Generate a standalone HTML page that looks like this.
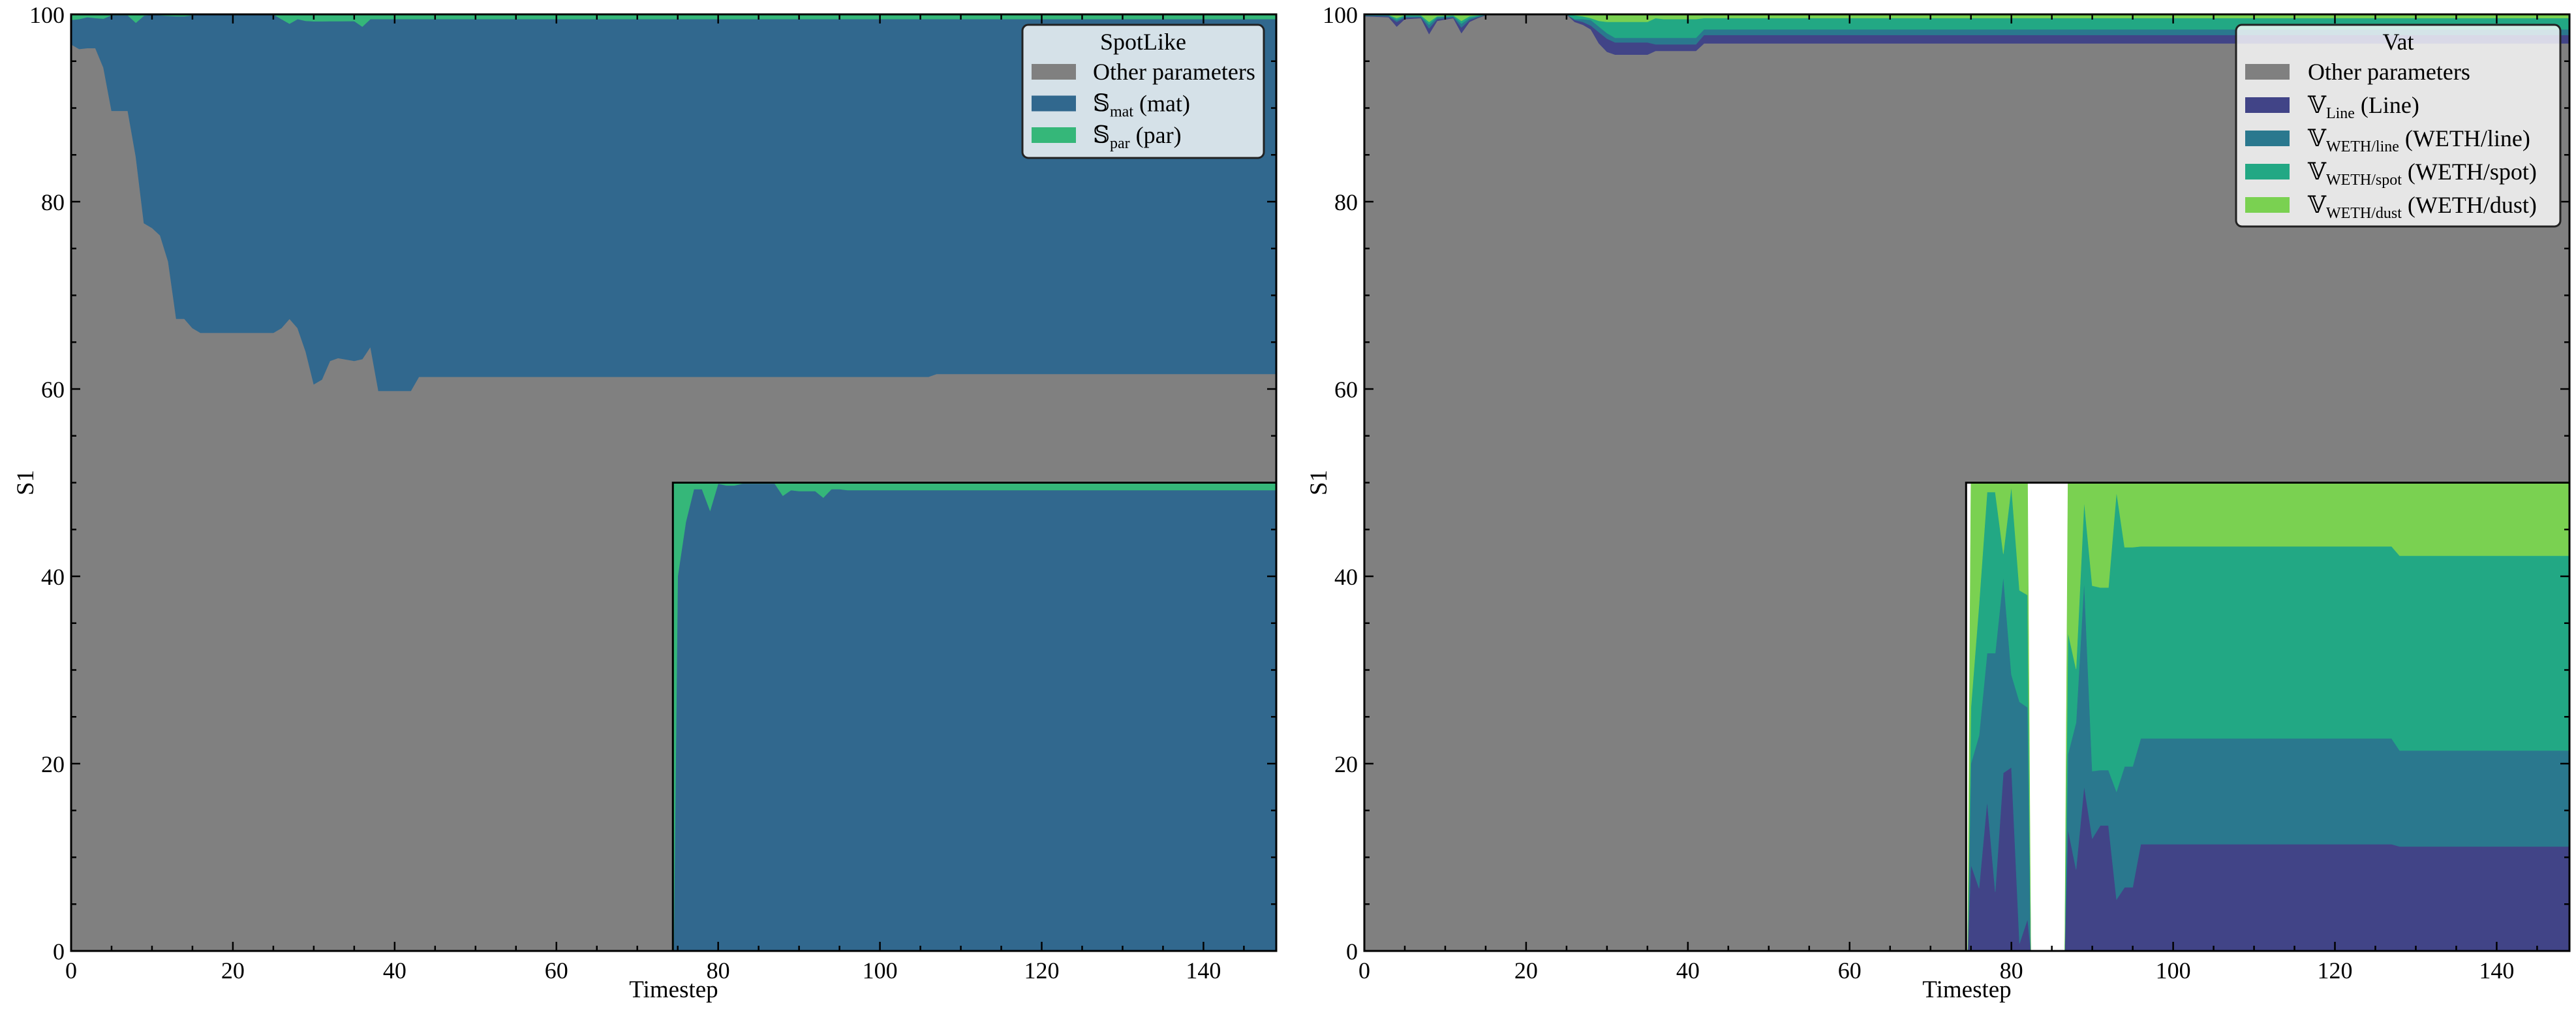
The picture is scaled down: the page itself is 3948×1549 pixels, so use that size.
<!DOCTYPE html>
<html><head><meta charset="utf-8"><style>
html,body{margin:0;padding:0;background:#fff}
svg{display:block}
text{font-family:"Liberation Serif","DejaVu Serif",serif;fill:#000}
</style></head><body>
<svg id="chart" width="3948" height="1549" viewBox="0 0 3948 1549" xmlns="http://www.w3.org/2000/svg">
<g id="root"></g>
</svg>
<script>
// ---------- Left panel (SpotLike) data ----------
const leftT     = [0,1,2,3,4,5,7,8,9,10,11,12,13,14,15,16,25,26,27,28,29,30,31,32,33,35,36,37,38,42,43,106,107,149];
const leftOther = [96.8,96.3,96.4,96.4,94.3,89.7,89.7,84.8,77.7,77.2,76.4,73.6,67.5,67.5,66.5,66,66,66.5,67.5,66.5,64,60.5,61,63,63.3,63,63.2,64.5,59.8,59.8,61.3,61.3,61.6,61.6];
const leftMat   = [2.6,3.2,3.3,3.2,5.24,10.2,10.2,14.3,22.16,22.75,23.5,26.25,32.3,32.3,33.4,34,34,33,31.5,33,35.3,38.76,38.26,36.27,35.97,36.28,35.5,35,39.7,39.7,38.2,38.2,37.9,37.9];
const leftPar   = [0.6,0.5,0.3,0.4,0.46,0.1,0.1,0.9,0.14,0.05,0.1,0.15,0.2,0.2,0.1,0,0,0.5,1.0,0.5,0.7,0.74,0.74,0.73,0.73,0.72,1.3,0.5,0.5,0.5,0.5,0.5,0.5,0.5];
// left inset (zoom, 0-50)
const lInT   = [74.5,75,76,77,78,79,80,81,82,83,87,88,89,90,92,93,94,95,96,149];
const lInMat = [0,40,45.8,49.3,49.3,47,49.9,49.7,49.7,49.9,49.9,48.6,49.2,49.1,49.1,48.4,49.3,49.3,49.2,49.2];
const lInPar = [50,10,4.2,0.7,0.7,3,0.1,0.3,0.3,0.1,0.1,1.4,0.8,0.9,0.9,1.6,0.7,0.7,0.8,0.8];

// ---------- Right panel (Vat) data ----------
const rightT     = [0,3,4,5,7,8,9,11,12,13,14,15,16,25,26,27,28,29,30,31,35,36,37,41,42,149];
const rightOther = [99.8,99.7,98.7,99.5,99.6,97.9,99.3,99.6,98.0,99.2,99.6,99.9,100,100,99.2,98.9,98.4,96.9,96,95.7,95.7,96.1,96.1,96.1,96.9,96.9];
const rightLine  = [0.05,0.1,0.5,0.15,0.1,0.6,0.2,0.1,0.6,0.2,0.1,0.02,0,0,0.2,0.3,0.4,1.2,1.4,1.3,1.3,0.7,0.7,0.7,0.9,0.9];
const rightWLine = [0.05,0.1,0.2,0.15,0.1,0.4,0.2,0.1,0.4,0.2,0.1,0.03,0,0,0.1,0.3,0.6,0.6,0.6,0.5,0.5,0.7,0.7,0.7,0.6,0.6];
const rightWSpot = [0.05,0.05,0.2,0.1,0.1,0.3,0.1,0.1,0.3,0.2,0.1,0.03,0,0,0.4,0.3,0.2,0.6,1.2,1.7,1.7,2.1,2.0,2.0,1.2,1.2];
const rightWDust = [0.05,0.05,0.4,0.1,0.1,0.8,0.2,0.1,0.7,0.2,0.1,0.02,0,0,0.1,0.2,0.4,0.7,0.8,0.8,0.8,0.4,0.5,0.5,0.4,0.4];
// right inset (zoom, 0-50)
const rInT     = [74.6,75,76,77,78,79,80,81,82,82.4,86.6,87,88,89,90,91,92,93,94,95,96,127,128,149];
const rInLine  = [0,9.2,6.7,16,6.3,19,19.6,0.8,3.4,0,0,13,8.7,17.6,12,13.4,13.4,5.5,6.8,6.8,11.4,11.4,11.15,11.15];
const rInWLine = [0,10.8,16.3,15.8,25.5,21,9.9,25.8,22.6,0,0,8,15.7,21.9,7.2,5.9,5.9,11.5,12.9,12.9,11.3,11.3,10.25,10.25];
const rInWSpot = [0,6,14,17.2,17.2,2.4,20.1,11.9,12,0,0,13,5.7,8.5,19.8,19.5,19.5,32,23.4,23.4,20.5,20.5,20.8,20.8];
const rInWDust = [0,24,13,1,1,7.6,0.4,11.5,12,0,0,16,19.9,2,11,11.2,11.2,1,6.9,6.9,6.8,6.8,7.8,7.8];

const xTicks = [0,20,40,60,80,100,120,140];
const yTicks = [0,20,40,60,80,100];

// ---------- geometry ----------
const NS = "http://www.w3.org/2000/svg";
const root = document.getElementById('root');
const TOP = 22, BOT = 1457, W = 1847, XMAX = 149;
function mk(tag, attrs, parent){const e=document.createElementNS(NS,tag);for(const k in attrs)e.setAttribute(k,attrs[k]);(parent||root).appendChild(e);return e;}
function xs(left){return t => left + t*W/XMAX;}
function ys(v){return BOT - v*(BOT-TOP)/100;}

function drawStack(g, X, T, layers, colors, names){
  let base = T.map(()=>0);
  layers.forEach((L,li)=>{
    const top = base.map((b,i)=>b+L[i]);
    let d = 'M';
    T.forEach((t,i)=>{ d += (i?' L':'') + X(t).toFixed(1)+','+ys(top[i]).toFixed(1); });
    for(let i=T.length-1;i>=0;i--) d += ' L'+X(T[i]).toFixed(1)+','+ys(base[i]).toFixed(1);
    d += ' Z';
    const p = mk('path',{d:d,fill:colors[li],stroke:colors[li],'stroke-width':0.6},g);
    
    
    base = top;
  });
}

function drawPanel(left, cfg){
  const X = xs(left);
  const g = mk('g',{});
  
  
  mk('rect',{x:left,y:TOP,width:W,height:BOT-TOP,fill:'#fff'},g);
  drawStack(g, X, cfg.T, cfg.layers, cfg.colors, cfg.names);
  // inset
  const ig = mk('g',{});
  
  
  const ix0 = X(74.4), iy0 = ys(50);
  mk('rect',{x:ix0,y:iy0,width:left+W-ix0,height:BOT-iy0,fill:'#fff'},ig);
  drawStack(ig, X, cfg.inT, cfg.inLayers, cfg.inColors, cfg.inNames);
  mk('path',{d:`M${ix0},${BOT} L${ix0},${iy0} L${left+W},${iy0}`,fill:'none',stroke:'#000','stroke-width':3},ig);
  // frame
  const fr = mk('rect',{x:left,y:TOP,width:W,height:BOT-TOP,fill:'none',stroke:'#000','stroke-width':3});
  
  
  // ticks
  const tg = mk('g',{stroke:'#000','stroke-width':2.5});
  
  
  for(let t=0;t<=XMAX;t+=5){
    const L = (t%20===0)?14:8, x=X(t);
    mk('line',{x1:x,y1:BOT,x2:x,y2:BOT-L},tg);
    mk('line',{x1:x,y1:TOP,x2:x,y2:TOP+L},tg);
  }
  for(let v=0;v<=100;v+=5){
    const L = (v%20===0)?14:8, y=ys(v);
    mk('line',{x1:left,y1:y,x2:left+L,y2:y},tg);
    mk('line',{x1:left+W,y1:y,x2:left+W-L,y2:y},tg);
  }
  xTicks.forEach(t=>{
    const e = mk('text',{x:X(t),y:BOT+42,'font-size':36,'text-anchor':'middle'});
    e.textContent = t;
    
    
  });
  yTicks.forEach(v=>{
    const e = mk('text',{x:left-10,y:ys(v)+13,'font-size':36,'text-anchor':'end'});
    e.textContent = v;
    
    
  });
  const xt = mk('text',{x:left+W/2,y:1528,'font-size':37,'text-anchor':'middle'});
  xt.textContent = 'Timestep';
  
  
  const yt = mk('text',{x:0,y:0,'font-size':37,'text-anchor':'middle',transform:`translate(${left-58},${(TOP+BOT)/2}) rotate(-90)`});
  yt.textContent = 'S1';
  
  
  // legend
  const lg = mk('g',{});
  
  
  const b = cfg.legend;
  mk('rect',{x:b.x,y:38,width:b.w,height:b.h,rx:9,fill:'rgba(255,255,255,0.8)',stroke:'#222','stroke-width':3},lg);
  const tt = mk('text',{x:b.x+b.w/2,y:76,'font-size':36,'text-anchor':'middle'},lg);
  tt.textContent = cfg.title;
  cfg.legItems.forEach((it,i)=>{
    const cy = 110 + i*b.step;
    const r = mk('rect',{x:b.x+14,y:cy-12,width:68,height:24,fill:it.c},lg);
    
    
    const tx = mk('text',{x:b.x+b.tx,y:cy+12,'font-size':36},lg);
    
    
    if(it.sub){
      const s1 = mk('tspan',{},tx); s1.textContent = it.sym;
      const s2 = mk('tspan',{'font-size':24,dy:8},tx); s2.textContent = it.sub;
      const s3 = mk('tspan',{dy:-8,'font-size':36},tx); s3.textContent = ' ' + it.rest;
    } else tx.textContent = it.rest;
  });
}

const C = {gray:'#808080',mat:'#31688e',par:'#35b779',line:'#414487',wl:'#2a788e',ws:'#22a884',wd:'#7ad151'};

drawPanel(109,{
  name:'spotlike', title:'SpotLike',
  T:leftT, layers:[leftOther,leftMat,leftPar], colors:[C.gray,C.mat,C.par],
  names:['area-other-parameters','area-s-mat','area-s-par'],
  inT:lInT, inLayers:[lInMat,lInPar], inColors:[C.mat,C.par], inNames:['inset-area-s-mat','inset-area-s-par'],
  legend:{x:1567,w:370,h:204,step:48.5,tx:108},
  legItems:[{c:C.gray,rest:'Other parameters'},{c:C.mat,sym:'𝕊',sub:'mat',rest:'(mat)'},{c:C.par,sym:'𝕊',sub:'par',rest:'(par)'}]
});
drawPanel(2091,{
  name:'vat', title:'Vat',
  T:rightT, layers:[rightOther,rightLine,rightWLine,rightWSpot,rightWDust], colors:[C.gray,C.line,C.wl,C.ws,C.wd],
  names:['area-other-parameters','area-v-line','area-v-weth-line','area-v-weth-spot','area-v-weth-dust'],
  inT:rInT, inLayers:[rInLine,rInWLine,rInWSpot,rInWDust], inColors:[C.line,C.wl,C.ws,C.wd],
  inNames:['inset-area-v-line','inset-area-v-weth-line','inset-area-v-weth-spot','inset-area-v-weth-dust'],
  legend:{x:3427,w:497,h:309,step:51,tx:110},
  legItems:[{c:C.gray,rest:'Other parameters'},{c:C.line,sym:'𝕍',sub:'Line',rest:'(Line)'},{c:C.wl,sym:'𝕍',sub:'WETH/line',rest:'(WETH/line)'},{c:C.ws,sym:'𝕍',sub:'WETH/spot',rest:'(WETH/spot)'},{c:C.wd,sym:'𝕍',sub:'WETH/dust',rest:'(WETH/dust)'}]
});
</script>
</body></html>
